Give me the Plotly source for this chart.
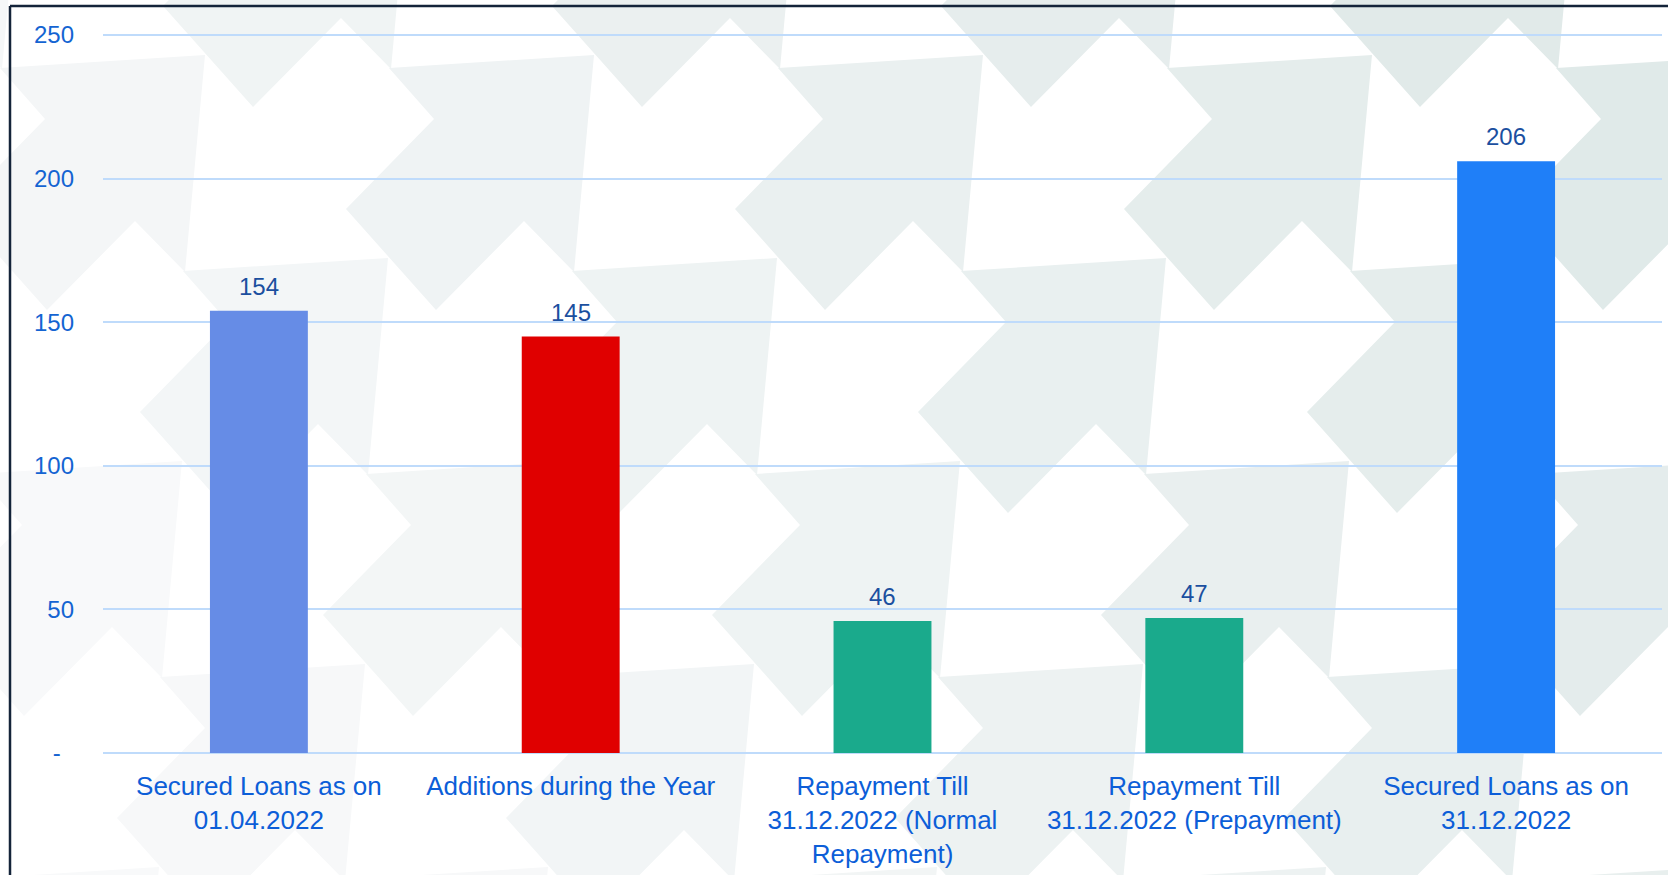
import plotly.graph_objects as go

# ---- data ----
categories = ["Opening", "Additions", "Repay Normal", "Repay Prepay", "Closing"]
tick_labels = [
    "Secured Loans as on<br>01.04.2022",
    "Additions during the Year",
    "Repayment Till<br>31.12.2022 (Normal<br>Repayment)",
    "Repayment Till<br>31.12.2022 (Prepayment)",
    "Secured Loans as on<br>31.12.2022",
]
values = [154, 145, 46, 47, 206]
bar_colors = ["#668ce6", "#e00000", "#1aaa8c", "#1aaa8c", "#1f7ff8"]
y_tickvals = [0, 50, 100, 150, 200, 250]
y_ticktext = ["-\u00a0\u00a0", "50", "100", "150", "200", "250"]

# ---- layout geometry (pixels) ----
W, H = 1668, 875
ML, MR, MT, MB = 103, 6, 33, 120
PW, PH = W - ML - MR, H - MT - MB
Y_RANGE = [-0.7, 250.7]


def px2paper(x, y):
    return (x - ML) / PW, (H - MB - y) / PH


# background arrow motif (pixel coords) and lattice
motif = [(389, 68), (594, 55), (574, 272), (524, 221), (436, 310), (346, 209), (434, 119)]
v1 = (389, 0)
v2 = (-206, 203)
light = (248, 249, 250)
dark = (223, 233, 232)

shapes = []
for j in range(-2, 6):
    for i in range(-3, 8):
        dx = i * v1[0] + j * v2[0]
        dy = i * v1[1] + j * v2[1]
        pts = [(x + dx, y + dy) for x, y in motif]
        cx = sum(p[0] for p in pts) / len(pts)
        cy = sum(p[1] for p in pts) / len(pts)
        if cx < -300 or cx > W + 300 or cy < -300 or cy > H + 300:
            continue
        t = 0.85 * (cx / W) + 0.3 * (1 - cy / H) - 0.12
        t = max(0.0, min(1.0, t))
        col = tuple(round(light[k] + (dark[k] - light[k]) * t) for k in range(3))
        path = ""
        for n, (x, y) in enumerate(pts):
            px, py = px2paper(x, y)
            path += ("M" if n == 0 else "L") + f"{px:.5f},{py:.5f} "
        path += "Z"
        shapes.append(dict(type="path", path=path, xref="paper", yref="paper",
                           fillcolor=f"rgb{col}", line=dict(width=0), layer="below"))

# frame lines (top and left)
x0p, y0p = px2paper(10, 6)
x1p, _ = px2paper(W + 5, 6)
_, ybp = px2paper(10, H + 5)
shapes.append(dict(type="line", xref="paper", yref="paper", x0=x0p, y0=y0p, x1=x1p, y1=y0p,
                   line=dict(color="#14243a", width=2.5), layer="above"))
shapes.append(dict(type="line", xref="paper", yref="paper", x0=x0p, y0=y0p, x1=x0p, y1=ybp,
                   line=dict(color="#14243a", width=2.5), layer="above"))

fig = go.Figure(
    go.Bar(
        x=categories,
        y=values,
        marker=dict(color=bar_colors, line=dict(width=0)),
        width=0.314,
        hoverinfo="x+y",
    )
)

annotations = [
    dict(x=c, y=v, xref="x", yref="y", text=str(v), showarrow=False,
         yanchor="bottom", xanchor="center", yshift=9,
         font=dict(size=24, color="#1b4f9f", family="Arial, Liberation Sans"))
    for c, v in zip(categories, values)
]

fig.update_layout(
    width=W,
    height=H,
    margin=dict(l=ML, r=MR, t=MT, b=MB, pad=0),
    paper_bgcolor="white",
    plot_bgcolor="rgba(0,0,0,0)",
    showlegend=False,
    shapes=shapes,
    annotations=annotations,
    font=dict(family="Arial, Liberation Sans", color="#1464d2"),
    xaxis=dict(
        tickmode="array",
        tickvals=categories,
        ticktext=tick_labels,
        tickfont=dict(size=26, color="#0c5ed8"),
        showgrid=False,
        showline=False,
        zeroline=False,
        ticks="",
        ticklabelstandoff=13,
        tickangle=0,
    ),
    yaxis=dict(
        range=Y_RANGE,
        tickmode="array",
        tickvals=y_tickvals,
        ticktext=y_ticktext,
        tickfont=dict(size=24, color="#1464d2"),
        showgrid=True,
        gridcolor="#bfdbfb",
        gridwidth=2,
        zeroline=False,
        showline=False,
        ticks="",
        ticklabelstandoff=28,
    ),
)

fig.write_html(
    "out.html",
    config={"displayModeBar": False},
    post_script="document.body.style.margin='0';document.body.style.overflow='hidden';",
)
